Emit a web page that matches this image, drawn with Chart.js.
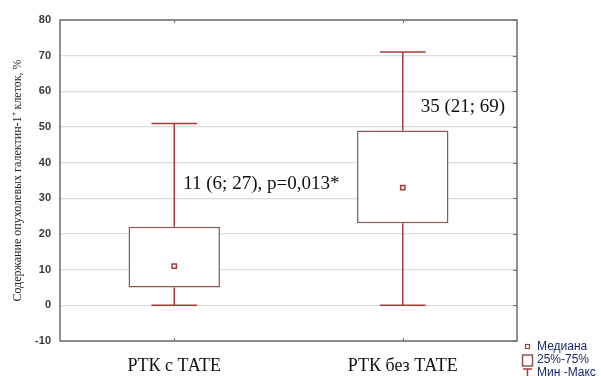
<!DOCTYPE html>
<html><head><meta charset="utf-8">
<script src="https://cdn.jsdelivr.net/npm/chart.js@4"></script>
<style>html,body{margin:0;padding:0;background:#fff}#wrap{width:601px;height:376px}</style>
</head><body><div id="wrap"><canvas id="c" width="601" height="376"></canvas></div>
<script>
const categories = ['РТК с ТАТЕ', 'РТК без ТАТЕ'];
const minValues = [0, 0];
const q1Values = [5, 23];
const medianValues = [11, 33];
const q3Values = [22, 49];
const maxValues = [51, 71];
const annotations = ['11 (6; 27), p=0,013*', '35 (21; 69)'];
const annotationY = [34, 55.5];
const yTicks = [-10, 0, 10, 20, 30, 40, 50, 60, 70, 80];
const yTitle = 'Содержание опухолевых галектин-1⁺ клеток, %';
const legendLabels = ['Медиана', '25%-75%', 'Мин -Макс'];

const boxColor = '#8e5757';
const whiskColor = '#a83a3a';
const frameColor = '#6e6e6e';

const whiskerPlugin = {
  id: 'whiskers',
  beforeDatasetsDraw(chart) {
    const {ctx, scales: {x, y}} = chart;
    ctx.save();
    ctx.strokeStyle = whiskColor;
    ctx.lineWidth = 1.5;
    const meta = chart.getDatasetMeta(0);
    categories.forEach((c, i) => {
      const cx = x.getPixelForValue(i);
      const bw = meta.data[i].width;
      const cap = bw / 4;
      ctx.beginPath();
      ctx.moveTo(cx, y.getPixelForValue(minValues[i]));
      ctx.lineTo(cx, y.getPixelForValue(q1Values[i]));
      ctx.moveTo(cx, y.getPixelForValue(q3Values[i]));
      ctx.lineTo(cx, y.getPixelForValue(maxValues[i]));
      ctx.moveTo(cx - cap, y.getPixelForValue(minValues[i]));
      ctx.lineTo(cx + cap, y.getPixelForValue(minValues[i]));
      ctx.moveTo(cx - cap, y.getPixelForValue(maxValues[i]));
      ctx.lineTo(cx + cap, y.getPixelForValue(maxValues[i]));
      ctx.stroke();
    });
    ctx.restore();
  },
  afterDraw(chart) {
    const {ctx, chartArea: a, scales: {x, y}} = chart;
    ctx.save();
    ctx.strokeStyle = frameColor;
    ctx.lineWidth = 1.5;
    ctx.strokeRect(a.left, a.top, a.right - a.left, a.bottom - a.top);
    ctx.lineWidth = 1;
    ctx.beginPath();
    yTicks.forEach(v => {
      const py = Math.round(y.getPixelForValue(v)) + 0.5;
      ctx.moveTo(a.right - 4, py); ctx.lineTo(a.right, py);
    });
    categories.forEach((c, i) => {
      const px = Math.round(x.getPixelForValue(i)) + 0.5;
      ctx.moveTo(px, a.top); ctx.lineTo(px, a.top + 3);
      ctx.moveTo(px, a.bottom); ctx.lineTo(px, a.bottom - 3);
    });
    ctx.stroke();
    ctx.fillStyle = '#111';
    ctx.font = '19px "Liberation Serif", "Times New Roman", serif';
    ctx.textBaseline = 'middle';
    ctx.textAlign = 'left';
    ctx.fillText(annotations[0], x.getPixelForValue(0) + 9, y.getPixelForValue(annotationY[0]));
    ctx.fillText(annotations[1], x.getPixelForValue(1) + 18, y.getPixelForValue(annotationY[1]));
    const ly = 347;
    ctx.font = '12px "Liberation Sans", Arial, sans-serif';
    ctx.fillStyle = '#1a2a6a';
    ctx.fillText(legendLabels[0], 537, ly);
    ctx.fillText(legendLabels[1], 537, ly + 13);
    ctx.fillText(legendLabels[2], 537, ly + 26);
    ctx.lineWidth = 1.2;
    ctx.strokeStyle = whiskColor;
    ctx.strokeRect(525.5, ly - 2.5, 4, 4);
    ctx.strokeStyle = boxColor;
    ctx.lineWidth = 1.5;
    ctx.strokeRect(522.5, ly + 8, 10, 11);
    ctx.strokeStyle = whiskColor;
    ctx.beginPath();
    ctx.moveTo(523, ly + 22); ctx.lineTo(532, ly + 22);
    ctx.moveTo(527.5, ly + 22); ctx.lineTo(527.5, ly + 32);
    ctx.stroke();
    ctx.restore();
  }
};

new Chart(document.getElementById('c'), {
  data: {
    labels: categories,
    datasets: [
      {
        type: 'bar',
        data: q1Values.map((v, i) => [v, q3Values[i]]),
        backgroundColor: '#ffffff',
        borderColor: boxColor,
        borderWidth: 1.5,
        borderSkipped: false,
        categoryPercentage: 1,
        barPercentage: 0.4,
        order: 2
      },
      {
        type: 'line',
        data: medianValues,
        showLine: false,
        pointStyle: 'rect',
        pointRadius: 3,
        pointBackgroundColor: '#ffffff',
        pointBorderColor: whiskColor,
        pointBorderWidth: 1.5,
        order: 1
      }
    ]
  },
  plugins: [whiskerPlugin],
  options: {
    responsive: false,
    animation: false,
    events: [],
    layout: {padding: {top: 20, right: 84, left: 11, bottom: 0}},
    plugins: {legend: {display: false}, tooltip: {enabled: false}},
    scales: {
      x: {
        offset: true,
        grid: {display: false, drawTicks: false},
        border: {display: false},
        ticks: {
          color: '#111',
          font: {family: '"Liberation Serif", "Times New Roman", serif', size: 18},
          padding: 14
        },
        afterFit(s) { s.height = 35; }
      },
      y: {
        min: -10, max: 80,
        afterBuildTicks(s) { s.ticks = yTicks.map(v => ({value: v})); },
        grid: {color: '#dcdcdc', lineWidth: 1.2, drawTicks: false},
        border: {display: false},
        ticks: {
          color: '#3a3a3a',
          font: {family: '"Liberation Sans", Arial, sans-serif', size: 11, weight: 'bold'},
          padding: 9
        },
        title: {
          display: true,
          text: yTitle,
          color: '#222',
          font: {family: '"Liberation Serif", "Times New Roman", serif', size: 12},
          padding: {top: 0, bottom: 4}
        },
        afterFit(s) { s.width = 49; }
      }
    }
  }
});
</script>
</body></html>
